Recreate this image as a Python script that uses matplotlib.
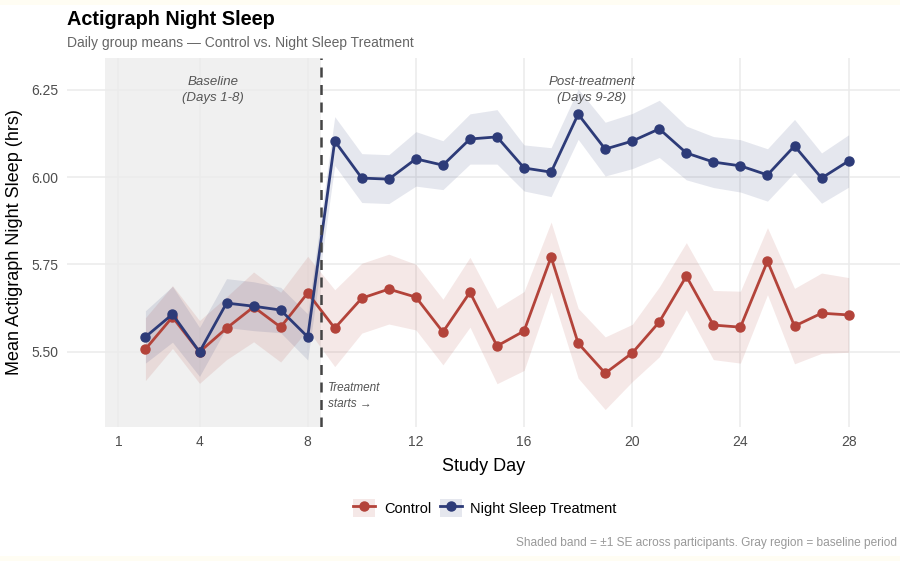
import matplotlib
matplotlib.use("Agg")
import matplotlib.pyplot as plt
from matplotlib.patches import Patch, Rectangle
from matplotlib.lines import Line2D
from matplotlib.legend_handler import HandlerTuple
import numpy as np

plt.rcParams["font.family"] = ["Liberation Sans", "DejaVu Sans"]

days = list(range(2, 29))
control_mean = [5.507, 5.599, 5.499, 5.567, 5.628, 5.570, 5.668, 5.567, 5.653, 5.679,
                5.656, 5.556, 5.670, 5.516, 5.559, 5.771, 5.524, 5.438, 5.496, 5.585,
                5.716, 5.576, 5.570, 5.759, 5.573, 5.610, 5.605]
control_se = [0.09, 0.09, 0.09, 0.09, 0.10, 0.10, 0.105, 0.11, 0.10, 0.10,
              0.094, 0.094, 0.10, 0.108, 0.113, 0.10, 0.10, 0.104, 0.082, 0.10,
              0.096, 0.099, 0.103, 0.096, 0.108, 0.115, 0.107]
treat_mean = [5.542, 5.607, 5.499, 5.639, 5.630, 5.619, 5.542, 6.103, 5.997, 5.994,
              6.052, 6.034, 6.109, 6.115, 6.026, 6.014, 6.180, 6.080, 6.103, 6.138,
              6.069, 6.043, 6.032, 6.006, 6.089, 5.997, 6.046]
treat_se = [0.075, 0.08, 0.07, 0.07, 0.07, 0.065, 0.066, 0.07, 0.07, 0.07,
            0.078, 0.07, 0.072, 0.078, 0.066, 0.07, 0.072, 0.077, 0.079, 0.082,
            0.077, 0.073, 0.075, 0.075, 0.076, 0.072, 0.075]
x_ticks = [1, 4, 8, 12, 16, 20, 24, 28]
y_ticks = [5.50, 5.75, 6.00, 6.25]

RED = "#B3433A"
BLUE = "#2D3B78"
TXT = "#4D4D4D"

fig = plt.figure(figsize=(9, 5.61), dpi=100)
fig.patch.set_facecolor("#FFFDF3")
fig.add_artist(Rectangle((0, 5 / 561), 1, 551 / 561, transform=fig.transFigure,
                         facecolor="white", edgecolor="none", zorder=-10))
ax = fig.add_axes([67 / 900, 1 - 427 / 561, 833 / 900, 369 / 561])
ax.set_facecolor("none")

ax.set_xlim(-0.9, 29.9)
ax.set_ylim(5.284, 6.341)

ax.axvspan(0.5, 8.5, color="#F0F0F0", zorder=0.5, lw=0)

d = np.array(days)
cm, cs = np.array(control_mean), np.array(control_se)
tm, ts = np.array(treat_mean), np.array(treat_se)

ax.fill_between(d, cm - cs, cm + cs, color=RED, alpha=0.12, lw=0, zorder=2)
ax.fill_between(d, tm - ts, tm + ts, color=BLUE, alpha=0.12, lw=0, zorder=2)
ax.plot(d, cm, color=RED, lw=2.0, marker="o", ms=6.5, zorder=3)
ax.plot(d, tm, color=BLUE, lw=2.0, marker="o", ms=6.5, zorder=3)

ax.axvline(8.5, color="#444444", lw=1.8, ls=(0, (4, 3)), zorder=4)

ax.set_xticks(x_ticks)
ax.set_yticks(y_ticks)
ax.set_yticklabels([f"{v:.2f}" for v in y_ticks])
ax.grid(True, color="#EBEBEB", lw=1.1, zorder=1)
ax.set_axisbelow(True)
for s in ax.spines.values():
    s.set_visible(False)
ax.tick_params(length=0, labelsize=10, labelcolor=TXT, pad=6)

ax.set_xlabel("Study Day", fontsize=13, color="black", labelpad=6)
ax.set_ylabel("Mean Actigraph Night Sleep (hrs)", fontsize=13, color="black", labelpad=6)

ax.text(4.5, 6.25, "Baseline\n(Days 1-8)", ha="center", va="center", style="italic",
        fontsize=9.5, color="#555555", linespacing=1.4)
ax.text(18.5, 6.25, "Post-treatment\n(Days 9-28)", ha="center", va="center", style="italic",
        fontsize=9.5, color="#555555", linespacing=1.4)
ax.text(8.75, 5.373, "Treatment\nstarts \u2192", ha="left", va="center", style="italic",
        fontsize=8.5, color="#555555", linespacing=1.5)

fig.text(67 / 900, 1 - 25 / 561, "Actigraph Night Sleep", fontsize=14.3, fontweight="bold",
         ha="left", va="baseline")
fig.text(67 / 900, 1 - 47 / 561, "Daily group means \u2014 Control vs. Night Sleep Treatment",
         fontsize=10, color="#666666", ha="left", va="baseline")
fig.text(897 / 900, 1 - 546 / 561,
         "Shaded band = \u00b11 SE across participants. Gray region = baseline period",
         fontsize=8.6, color="#999999", ha="right", va="baseline")

h_c = (Patch(facecolor=RED, alpha=0.12, edgecolor="none"),
       Line2D([], [], color=RED, lw=2.0, marker="o", ms=6.5))
h_t = (Patch(facecolor=BLUE, alpha=0.12, edgecolor="none"),
       Line2D([], [], color=BLUE, lw=2.0, marker="o", ms=6.5))
fig.legend([h_c, h_t], ["Control", "Night Sleep Treatment"],
           handler_map={tuple: HandlerTuple(ndivide=1, pad=0)},
           loc="center", bbox_to_anchor=(485 / 900, 1 - 508 / 561), ncol=2, frameon=False,
           fontsize=10.5, handlelength=1.5, handleheight=1.5, columnspacing=0.6,
           handletextpad=0.6)

fig.savefig("out.png", dpi=100)
